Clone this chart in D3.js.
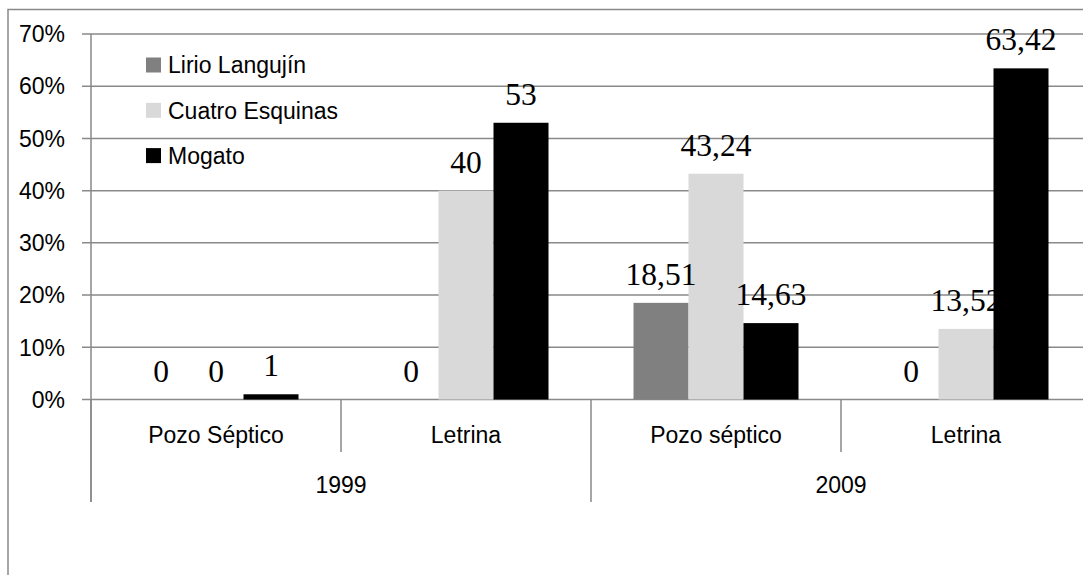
<!DOCTYPE html>
<html>
<head>
<meta charset="utf-8">
<script src="https://cdn.jsdelivr.net/npm/d3@7"></script>
<style>
  html, body { margin: 0; padding: 0; background: #ffffff; }
  svg { display: block; }
</style>
</head>
<body>
<svg id="chart" width="1083" height="575"></svg>
<script>
// ---- data ----
const categories = ["Pozo Séptico", "Letrina", "Pozo séptico", "Letrina"];
const categoryYears = ["1999", "1999", "2009", "2009"];
const years = ["1999", "2009"];
const seriesNames = ["Lirio Langujín", "Cuatro Esquinas", "Mogato"];
const lirioLangujin = [0, 0, 18.51, 0];
const cuatroEsquinas = [0, 40, 43.24, 13.52];
const mogato = [1, 53, 14.63, 63.42];
const yTickValues = [0, 10, 20, 30, 40, 50, 60, 70];
const yTickLabels = ["0%", "10%", "20%", "30%", "40%", "50%", "60%", "70%"];

const seriesValues = [lirioLangujin, cuatroEsquinas, mogato];
const colors = ["#808080", "#d9d9d9", "#000000"];
const gridColor = "#898989";
const sansFont = "'Liberation Sans', Arial, sans-serif";
const serifFont = "'Liberation Serif', 'Times New Roman', serif";

const svg = d3.select("#chart");

// outer frame (extends past the picture on right / bottom)
svg.append("path")
  .attr("d", "M8,1200 L8,9.5 L1200,9.5")
  .attr("fill", "none").attr("stroke", gridColor).attr("stroke-width", 1.5);

// ---- scales ----
const x = d3.scaleBand().domain(d3.range(categories.length)).range([91, 1091]).paddingInner(0).paddingOuter(0);
const x1 = d3.scaleBand().domain(d3.range(seriesNames.length)).range([0, x.bandwidth()])
  .paddingInner(0).paddingOuter(42.5 / 55);
const y = d3.scaleLinear().domain([0, 70]).range([399.5, 34]);

// gridlines + y labels
const gy = svg.append("g");
gy.selectAll("line").data(yTickValues).join("line")
  .attr("x1", 82).attr("x2", 1200)
  .attr("y1", d => y(d)).attr("y2", d => y(d))
  .attr("stroke", gridColor).attr("stroke-width", 1.5);
gy.selectAll("text").data(yTickValues).join("text")
  .attr("x", 65).attr("y", d => y(d))
  .attr("dy", "0.36em")
  .attr("text-anchor", "end")
  .attr("font-family", sansFont).attr("font-size", 23).attr("fill", "#000")
  .text((d, i) => yTickLabels[i]);

// y axis line
svg.append("line").attr("x1", 91).attr("x2", 91).attr("y1", y(70)).attr("y2", 502)
  .attr("stroke", gridColor).attr("stroke-width", 1.5);

// category separators
const sepIdx = d3.range(categories.length + 1);
svg.append("g").selectAll("line").data(sepIdx).join("line")
  .attr("x1", i => (i < categories.length ? x(i) : x(i - 1) + x.bandwidth()))
  .attr("x2", i => (i < categories.length ? x(i) : x(i - 1) + x.bandwidth()))
  .attr("y1", y(0))
  .attr("y2", i => (i % 2 === 0 ? 502 : 452))
  .attr("stroke", gridColor).attr("stroke-width", 1.5);

// bars
seriesValues.forEach((vals, s) => {
  svg.append("g").selectAll("rect").data(vals).join("rect")
    .attr("x", (d, i) => x(i) + x1(s))
    .attr("width", x1.bandwidth())
    .attr("y", d => y(d))
    .attr("height", d => y(0) - y(d))
    .attr("fill", colors[s]);
});

// data labels
seriesValues.forEach((vals, s) => {
  svg.append("g").selectAll("text").data(vals).join("text")
    .attr("x", (d, i) => x(i) + x1(s) + x1.bandwidth() / 2)
    .attr("y", d => y(d) - 18)
    .attr("text-anchor", "middle")
    .attr("font-family", serifFont).attr("font-size", 31.5).attr("fill", "#000")
    .text(d => String(d).replace(".", ","));
});

// category labels
svg.append("g").selectAll("text").data(categories).join("text")
  .attr("x", (d, i) => x(i) + x.bandwidth() / 2)
  .attr("y", 443)
  .attr("text-anchor", "middle")
  .attr("font-family", sansFont).attr("font-size", 23).attr("fill", "#000")
  .text(d => d);

// year labels
svg.append("g").selectAll("text").data(years).join("text")
  .attr("x", yr => {
    const idx = categoryYears.map((c, i) => c === yr ? i : -1).filter(i => i >= 0);
    return (x(idx[0]) + x(idx[idx.length - 1]) + x.bandwidth()) / 2;
  })
  .attr("y", 493)
  .attr("text-anchor", "middle")
  .attr("font-family", sansFont).attr("font-size", 23).attr("fill", "#000")
  .text(d => d);

// legend
const legend = svg.append("g");
const leg = legend.selectAll("g").data(seriesNames).join("g")
  .attr("transform", (d, i) => `translate(146, ${65 + i * 45.3})`);
leg.append("rect").attr("x", 0).attr("y", -7.5).attr("width", 15).attr("height", 15)
  .attr("fill", (d, i) => colors[i]);
leg.append("text").attr("x", 22).attr("y", 0).attr("dy", "0.36em")
  .attr("font-family", sansFont).attr("font-size", 23).attr("fill", "#000")
  .text(d => d);
</script>
</body>
</html>
